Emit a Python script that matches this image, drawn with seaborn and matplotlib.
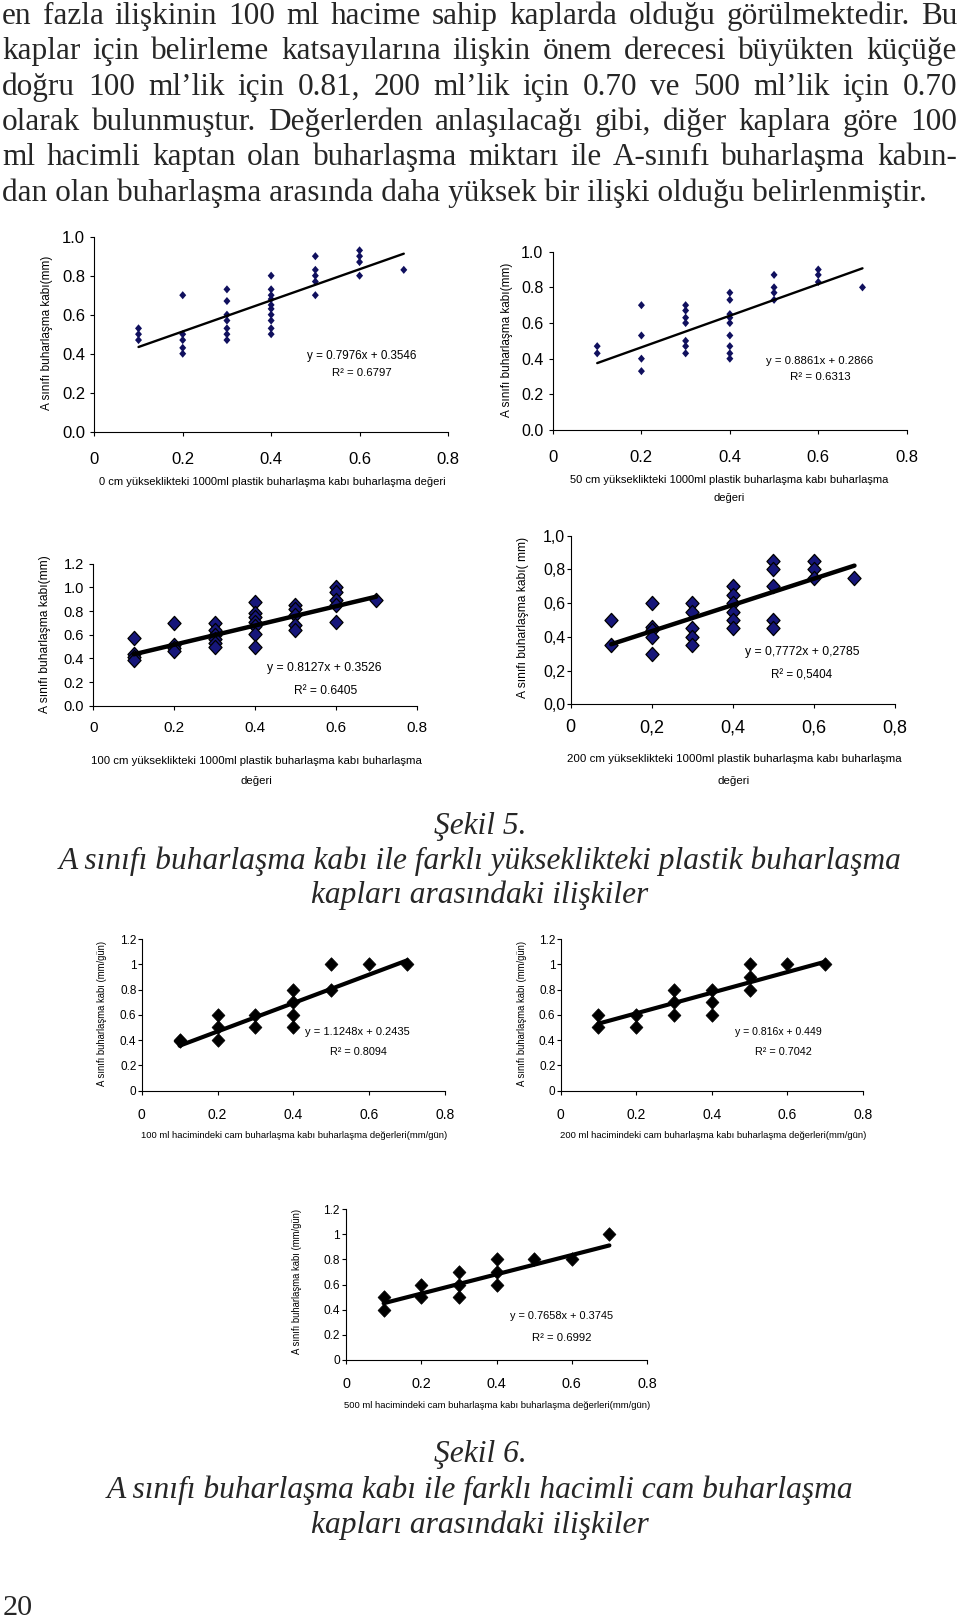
import matplotlib
matplotlib.use("Agg")
import matplotlib.pyplot as plt
from matplotlib.path import Path
from matplotlib.markers import MarkerStyle
import seaborn as sns
import pandas as pd
import numpy as np

# ---------------- data ----------------
x_levels = [0.1, 0.2, 0.3, 0.4, 0.5, 0.6, 0.7]

# Şekil 5 – plastic pans at different heights
p1_y = [[0.53, 0.50, 0.47],
        [0.70, 0.50, 0.47, 0.43, 0.40],
        [0.73, 0.67, 0.60, 0.57, 0.53, 0.50, 0.47],
        [0.80, 0.73, 0.70, 0.68, 0.65, 0.63, 0.60, 0.57, 0.53, 0.50],
        [0.90, 0.83, 0.80, 0.77, 0.70],
        [0.93, 0.90, 0.87, 0.80],
        [0.83]]
p1_fit = (0.7976, 0.3546)
p1_eq = ["y = 0.7976x + 0.3546", "R² = 0.6797"]

p2_y = [[0.47, 0.43],
        [0.70, 0.53, 0.40, 0.33],
        [0.70, 0.67, 0.63, 0.60, 0.50, 0.47, 0.43],
        [0.77, 0.73, 0.65, 0.63, 0.60, 0.53, 0.47, 0.43, 0.40],
        [0.87, 0.80, 0.77, 0.73],
        [0.90, 0.87, 0.83],
        [0.80]]
p2_fit = (0.8861, 0.2866)
p2_eq = ["y = 0.8861x + 0.2866", "R² = 0.6313"]

p3_y = [[0.57, 0.44, 0.41, 0.39],
        [0.70, 0.51, 0.49, 0.46],
        [0.70, 0.64, 0.60, 0.56, 0.53, 0.50],
        [0.88, 0.78, 0.75, 0.71, 0.67, 0.61, 0.50],
        [0.85, 0.82, 0.77, 0.68, 0.64],
        [1.00, 0.96, 0.89, 0.85, 0.71],
        [0.89]]
p3_fit = (0.8127, 0.3526)
p3_eq = ["y = 0.8127x + 0.3526", "R² = 0.6405"]

p4_y = [[0.50, 0.35],
        [0.60, 0.46, 0.44, 0.40, 0.30],
        [0.60, 0.55, 0.45, 0.40, 0.35],
        [0.70, 0.65, 0.60, 0.55, 0.50, 0.45],
        [0.85, 0.80, 0.70, 0.50, 0.45],
        [0.85, 0.80, 0.75],
        [0.75]]
p4_fit = (0.7772, 0.2785)
p4_eq = ["y = 0,7772x + 0,2785", "R² = 0,5404"]

# Şekil 6 – glass pans of different volume
p5_y = [[0.40, 0.39],
        [0.60, 0.50, 0.40],
        [0.60, 0.50],
        [0.80, 0.70, 0.60, 0.50],
        [1.00, 0.80],
        [1.00],
        [1.00]]
p5_fit = (1.1248, 0.2435)
p5_eq = ["y = 1.1248x + 0.2435", "R² = 0.8094"]

p6_y = [[0.60, 0.50],
        [0.60, 0.50],
        [0.80, 0.70, 0.60],
        [0.80, 0.70, 0.60],
        [1.00, 0.90, 0.80],
        [1.00],
        [1.00]]
p6_fit = (0.816, 0.449)
p6_eq = ["y = 0.816x + 0.449", "R² = 0.7042"]

p7_y = [[0.50, 0.40],
        [0.60, 0.50],
        [0.70, 0.60, 0.50],
        [0.80, 0.70, 0.60],
        [0.80],
        [0.80],
        [1.00]]
p7_fit = (0.7658, 0.3745)
p7_eq = ["y = 0.7658x + 0.3745", "R² = 0.6992"]

x_ticks = [0, 0.2, 0.4, 0.6, 0.8]
xt_dot = ["0", "0.2", "0.4", "0.6", "0.8"]
xt_comma = ["0", "0,2", "0,4", "0,6", "0,8"]
y_ticks_10 = [0, 0.2, 0.4, 0.6, 0.8, 1.0]
y_ticks_12 = [0, 0.2, 0.4, 0.6, 0.8, 1.0, 1.2]
yt_10 = ["0.0", "0.2", "0.4", "0.6", "0.8", "1.0"]
yt_12 = ["0.0", "0.2", "0.4", "0.6", "0.8", "1.0", "1.2"]
yt_10c = ["0,0", "0,2", "0,4", "0,6", "0,8", "1,0"]
yt_12g = ["0", "0.2", "0.4", "0.6", "0.8", "1", "1.2"]

ylab_mm = "A sınıfı buharlaşma kabı(mm)"
ylab_mm2 = "A sınıfı buharlaşma kabı( mm)"
ylab_gun = "A sınıfı buharlaşma kabı (mm/gün)"
xlab1 = "0 cm yükseklikteki 1000ml plastik buharlaşma kabı buharlaşma değeri"
xlab2 = "50 cm yükseklikteki 1000ml plastik buharlaşma kabı buharlaşma\ndeğeri"
xlab3 = "100 cm yükseklikteki 1000ml plastik buharlaşma kabı buharlaşma\ndeğeri"
xlab4 = "200 cm yükseklikteki 1000ml plastik buharlaşma kabı buharlaşma\ndeğeri"
xlab5 = "100 ml hacimindeki cam buharlaşma kabı buharlaşma değerleri(mm/gün)"
xlab6 = "200 ml hacimindeki cam buharlaşma kabı buharlaşma değerleri(mm/gün)"
xlab7 = "500 ml hacimindeki cam buharlaşma kabı buharlaşma değerleri(mm/gün)"

body_lines = [
    "en fazla ilişkinin 100 ml hacime sahip kaplarda olduğu görülmektedir. Bu",
    "kaplar için belirleme katsayılarına ilişkin önem derecesi büyükten küçüğe",
    "doğru 100 ml’lik için 0.81, 200 ml’lik için 0.70 ve 500 ml’lik için 0.70",
    "olarak bulunmuştur. Değerlerden anlaşılacağı gibi, diğer kaplara göre 100",
    "ml hacimli kaptan olan buharlaşma miktarı ile A-sınıfı buharlaşma kabın-",
    "dan olan buharlaşma arasında daha yüksek bir ilişki olduğu belirlenmiştir.",
]
cap5 = ["Şekil 5.",
        "A sınıfı buharlaşma kabı ile farklı yükseklikteki plastik buharlaşma",
        "kapları arasındaki ilişkiler"]
cap6 = ["Şekil 6.",
        "A sınıfı buharlaşma kabı ile farklı hacimli cam buharlaşma",
        "kapları arasındaki ilişkiler"]
page_no = "20"

# ---------------- setup ----------------
W, H = 960, 1618
sns.set_style("ticks")
plt.rcParams["font.family"] = ["Liberation Sans", "DejaVu Sans"]
SERIF = ["Liberation Serif", "DejaVu Serif"]

fig = plt.figure(figsize=(W / 100, H / 100), dpi=100)
fig.patch.set_facecolor("white")
renderer = fig.canvas.get_renderer()


def fx(x):
    return x / W


def fy(y):
    return 1 - y / H


def fit_text(t, target, dim="w"):
    bb = t.get_window_extent(renderer)
    cur = bb.width if dim == "w" else bb.height
    if cur > 0:
        t.set_fontsize(t.get_fontsize() * target / cur)


def diamond(ratio):
    verts = [(0, 1), (ratio, 0), (0, -1), (-ratio, 0), (0, 1)]
    return MarkerStyle(Path(verts, closed=True))


def draw_panel(ys, fitc, eq, xtl, yticks, ytl, xlab, ylab, L, S):
    l, r, t, b = L["box"]
    ax = fig.add_axes([l / W, 1 - b / H, (r - l) / W, (b - t) / H])
    ax.set_facecolor("white")

    def to_ax(px, py):
        return (px - l) / (r - l), (b - py) / (b - t)

    xs = [x for x, g in zip(x_levels, ys) for _ in g]
    yv = [v for g in ys for v in g]
    df = pd.DataFrame({"x": xs, "y": yv})
    sns.scatterplot(data=df, x="x", y="y", ax=ax, marker=diamond(S["ratio"]),
                    s=S["s"], color=S["fc"], edgecolor=S["ec"],
                    linewidth=S["elw"], zorder=3, legend=False)
    xe = np.array([df["x"].min(), df["x"].max()])
    dl = pd.DataFrame({"x": xe, "y": fitc[0] * xe + fitc[1]})
    sns.lineplot(data=dl, x="x", y="y", ax=ax, color="black",
                 linewidth=S["lw"], zorder=4, legend=False)

    ax.set_xlim(0, 0.8)
    ax.set_ylim(0, yticks[-1])
    ax.set_xticks(x_ticks)
    ax.set_xticklabels(xtl)
    ax.set_yticks(yticks)
    ax.set_yticklabels(ytl)
    sns.despine(ax=ax)
    for sp in ("left", "bottom"):
        ax.spines[sp].set_color("black")
        ax.spines[sp].set_linewidth(0.8)
    ax.tick_params(axis="x", labelsize=S["xfs"], pad=S["xpad"], length=3,
                   width=0.8, colors="black", direction="out")
    ax.tick_params(axis="y", labelsize=S["yfs"], pad=S["ypad"], length=3,
                   width=0.8, colors="black", direction="out")

    cx, cy, w, gap = L["xl"]
    ax.set_xlabel(xlab, fontsize=8, color="black")
    ax.xaxis.set_label_coords(*to_ax(cx, cy))
    ax.xaxis.label.set_va("center")
    fit_text(ax.xaxis.label, w, "w")
    if gap:
        fs = ax.xaxis.label.get_fontsize()
        ax.xaxis.label.set_linespacing(gap / (0.716 * fs * 100 / 72))

    cx, cy, ln = L["yl"]
    ax.set_ylabel(ylab, fontsize=8, color="black")
    ax.yaxis.set_label_coords(*to_ax(cx, cy))
    ax.yaxis.label.set_va("center")
    fit_text(ax.yaxis.label, ln, "h")

    for (cx, cy, w), s in zip(L["eq"], eq):
        tx = ax.text(*to_ax(cx, cy), s, transform=ax.transAxes, ha="center",
                     va="center", fontsize=9, color="black")
        fit_text(tx, w, "w")
    return ax


S_small = dict(s=34, fc="#10105e", ec="none", elw=0, lw=1.7, ratio=0.86)
S_navy = dict(s=105, fc="#16167a", ec="black", elw=0.9, lw=3.2, ratio=0.92)
S_black = dict(s=95, fc="black", ec="black", elw=0.5, lw=3.0, ratio=0.95)

panels = [
    (p1_y, p1_fit, p1_eq, xt_dot, y_ticks_10, yt_10, xlab1, ylab_mm,
     dict(box=(94.3, 448, 236.7, 431.7), xl=(272, 482, 348, None),
          yl=(47, 332.5, 155), eq=[(362, 356, 110), (362, 373, 60)]),
     dict(S_small, xfs=12, xpad=11.5, yfs=12, ypad=3.6)),
    (p2_y, p2_fit, p2_eq, xt_dot, y_ticks_10, yt_10, xlab2, ylab_mm,
     dict(box=(553, 906.7, 251.7, 430), xl=(729, 488.7, 318, 16),
          yl=(506.7, 340, 154), eq=[(819.5, 360.7, 107), (820, 376.7, 60)]),
     dict(S_small, xfs=12, xpad=11.5, yfs=11.5, ypad=3.9)),
    (p3_y, p3_fit, p3_eq, xt_dot, y_ticks_12, yt_12, xlab3, ylab_mm,
     dict(box=(93.3, 416.7, 563.7, 705.7), xl=(256, 770.8, 334, 18.3),
          yl=(45, 634, 158), eq=[(324, 667.7, 115), (325.5, 690.7, 63)]),
     dict(S_navy, xfs=11, xpad=8, yfs=10.5, ypad=3.6)),
    (p4_y, p4_fit, p4_eq, xt_comma, y_ticks_10, yt_10c, xlab4, ylab_mm2,
     dict(box=(570.7, 895, 535.7, 704.3), xl=(734, 770, 335, 20),
          yl=(523, 617.5, 162), eq=[(802.5, 652.3, 115), (802, 676, 61)]),
     dict(S_navy, xfs=13, xpad=7.8, yfs=11.5, ypad=1.0)),
    (p5_y, p5_fit, p5_eq, xt_dot, y_ticks_12, yt_12g, xlab5, ylab_gun,
     dict(box=(141.7, 445, 939, 1090.7), xl=(294, 1136, 308, None),
          yl=(101.7, 1013.5, 147), eq=[(357.5, 1032.3, 105), (358, 1051.7, 57)]),
     dict(S_black, xfs=10, xpad=9.6, yfs=8.5, ypad=0.8)),
    (p6_y, p6_fit, p6_eq, xt_dot, y_ticks_12, yt_12g, xlab6, ylab_gun,
     dict(box=(560.7, 863, 939, 1090.7), xl=(713, 1136, 310, None),
          yl=(521.7, 1013.5, 147), eq=[(778, 1032.3, 87), (783, 1051.7, 57)]),
     dict(S_black, xfs=10, xpad=9.6, yfs=8.5, ypad=0.8)),
    (p7_y, p7_fit, p7_eq, xt_dot, y_ticks_12, yt_12g, xlab7, ylab_gun,
     dict(box=(346, 647, 1209, 1360), xl=(497, 1406, 309, None),
          yl=(297.3, 1281.5, 147), eq=[(561.5, 1315.7, 103), (562, 1337.7, 59)]),
     dict(S_black, xfs=10.4, xpad=9.4, yfs=8.6, ypad=1.3)),
]
for args in panels:
    draw_panel(*args)

# ---------------- body text (justified) ----------------
body_base = [24, 59.3, 95, 130, 165.3, 201]
left_px, right_px = 2, 957
probe = fig.text(0, 0, body_lines[-1], fontsize=20, family=SERIF)
body_fs = 20 * 927 / probe.get_window_extent(renderer).width
probe.remove()
for i, line in enumerate(body_lines):
    yb = fy(body_base[i])
    if i == len(body_lines) - 1:
        fig.text(fx(left_px), yb, line, fontsize=body_fs, family=SERIF,
                 va="baseline", ha="left")
        continue
    words = line.split(" ")
    ts = [fig.text(0, yb, wd, fontsize=body_fs, family=SERIF,
                   va="baseline", ha="left") for wd in words]
    ws = [t.get_window_extent(renderer).width for t in ts]
    gap = (right_px - left_px - sum(ws)) / (len(words) - 1)
    xcur = left_px
    for t, wv in zip(ts, ws):
        t.set_x(fx(xcur))
        xcur += wv + gap

# ---------------- captions ----------------
def caption(lines, baselines, width2):
    probe = fig.text(0, 0, lines[1], fontsize=20, family=SERIF, style="italic")
    fs = 20 * width2 / probe.get_window_extent(renderer).width
    probe.remove()
    for s, yb in zip(lines, baselines):
        fig.text(0.5, fy(yb), s, fontsize=fs, family=SERIF, style="italic",
                 ha="center", va="baseline")


caption(cap5, [834, 869.5, 903], 843)
caption(cap6, [1462, 1498, 1533], 747)

pn = fig.text(fx(3), fy(1615), page_no, fontsize=20, family=SERIF,
              ha="left", va="baseline")
fit_text(pn, 30, "w")

fig.savefig("out.png", dpi=100, facecolor="white")
